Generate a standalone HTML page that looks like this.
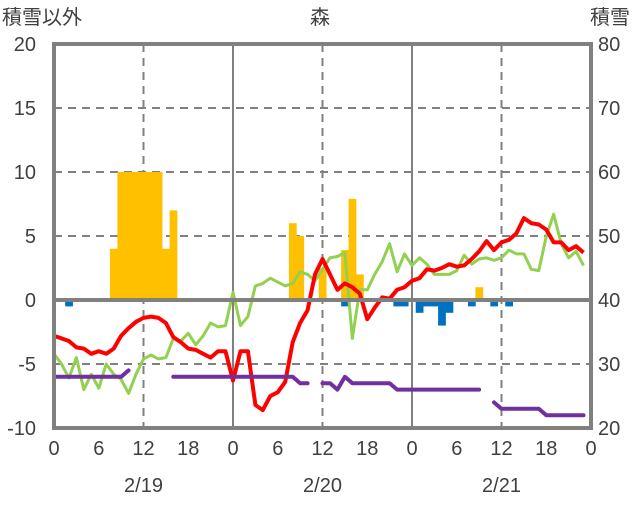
<!DOCTYPE html>
<html><head><meta charset="utf-8"><style>
body{margin:0;background:#fff;}
svg text{font-family:"Liberation Sans","Noto Sans CJK JP",sans-serif;fill:#404040;}
</style></head><body>
<svg id="chart" width="636" height="501" xmlns="http://www.w3.org/2000/svg">
<g id="grid"></g>
<g id="bars"></g>
<g id="lines"></g>
<g id="axes"></g>
<text x="2" y="24" font-size="20">積雪以外</text>
<text x="320" y="24" font-size="20" text-anchor="middle">森</text>
<text x="630" y="24" font-size="20" text-anchor="end">積雪</text>
</svg>
<script>
const leftTicks=[20,15,10,5,0,-5,-10];
const rightTicks=[80,70,60,50,40,30,20];
const hourTicks=[0,6,12,18,0,6,12,18,0,6,12,18,0];
const dateLabels=["2/19","2/20","2/21"];
const redTemp=[-2.8,-3.0,-3.2,-3.7,-3.8,-4.2,-4.0,-4.2,-3.8,-2.8,-2.2,-1.7,-1.4,-1.3,-1.4,-1.8,-2.9,-3.3,-3.8,-3.9,-4.2,-4.5,-4.0,-4.0,-6.3,-4.0,-4.0,-8.2,-8.6,-7.5,-7.2,-6.4,-3.3,-1.8,-0.8,2.0,3.2,2.0,0.8,1.3,1.0,0.5,-1.5,-0.6,0.2,0.1,0.8,1.0,1.5,1.7,2.4,2.3,2.5,2.8,2.6,2.7,3.2,3.8,4.6,3.9,4.5,4.7,5.2,6.4,6.0,5.9,5.5,4.5,4.5,3.9,4.2,3.7];
const greenTemp=[-4.2,-5.0,-6.1,-4.5,-7.0,-5.8,-6.9,-5.0,-5.8,-6.2,-7.3,-5.8,-4.6,-4.3,-4.6,-4.5,-3.0,-3.2,-2.6,-3.5,-2.8,-1.8,-2.1,-2.0,0.6,-2.0,-1.3,1.1,1.3,1.7,1.4,1.1,1.3,2.2,2.0,1.5,2.4,3.3,3.4,3.7,-3.0,0.8,0.8,2.0,3.0,4.4,2.2,3.6,2.7,3.3,2.8,2.0,2.0,2.0,2.3,3.5,2.8,3.2,3.3,3.1,3.3,3.9,3.6,3.6,2.4,2.3,5.0,6.7,4.4,3.3,3.8,2.7];
const snowDepth=[28,28,28,28,28,28,28,28,28,28,29,null,null,null,null,null,28,28,28,28,28,28,28,28,28,28,28,28,28,28,28,28,28,27,27,null,27,27,26,28,27,27,27,27,27,27,26,26,26,26,26,26,26,26,26,26,26,26,null,24,23,23,23,23,23,23,22,22,22,22,22,22];
const barHours=[8,9,10,11,12,13,14,15,16,32,33,36,39,40,41,57];
const barValues=[4,10,10,10,10,10,10,4,7,6,5,2.5,3.9,7.9,2.0,1.0];
const negHours=[2,39,46,47,49,50,51,52,53,56,59,61];
const negValues=[-0.5,-0.5,-0.5,-0.5,-1.0,-0.5,-0.5,-2.0,-1.0,-0.5,-0.5,-0.5];

const X0=54,X1=591,Y0=44,Y1=428;
const xs=h=>X0+h*(X1-X0)/72;
const yL=v=>Y0+(20-v)*(Y1-Y0)/30;
const yR=v=>yL((v-40)/2);
const NS="http://www.w3.org/2000/svg";
function mk(tag,parent,attrs){const e=document.createElementNS(NS,tag);for(const k in attrs)e.setAttribute(k,attrs[k]);document.getElementById(parent).appendChild(e);return e;}

// grid
[15,10,5,-5].forEach(v=>{const l=mk('line','grid',{x1:X0,x2:X1,y1:yL(v),y2:yL(v),stroke:'#808080','stroke-width':2,'stroke-dasharray':'8,6'});

});
[12,36,60].forEach(h=>{const l=mk('line','grid',{x1:xs(h),x2:xs(h),y1:Y0,y2:Y1,stroke:'#808080','stroke-width':2,'stroke-dasharray':'8,6'});

});
[24,48].forEach(h=>{const l=mk('line','grid',{x1:xs(h),x2:xs(h),y1:Y0,y2:Y1,stroke:'#808080','stroke-width':2});

});
const bw=(X1-X0)/72;
barHours.forEach((h,i)=>{const v=barValues[i];const r=mk('rect','bars',{x:xs(h)-bw/2,y:yL(v),width:bw+0.3,height:yL(0)-yL(v),fill:'#ffc000'});

});
negHours.forEach((h,i)=>{const v=negValues[i];const r=mk('rect','bars',{x:xs(h)-bw/2,y:yL(0),width:bw+0.3,height:yL(v)-yL(0),fill:'#0070c0'});

});
function path(arr,fy){let d='',pen=false;arr.forEach((v,i)=>{if(v===null){pen=false;return;}d+=(pen?'L':'M')+xs(i).toFixed(1)+','+fy(v).toFixed(1);pen=true;});return d;}
const pg=mk('path','lines',{d:path(greenTemp,yL),fill:'none',stroke:'#92d050','stroke-width':3,'stroke-linejoin':'round'});


const pr=mk('path','lines',{d:path(redTemp,yL),fill:'none',stroke:'#ff0000','stroke-width':4,'stroke-linejoin':'round'});


const pp=mk('path','lines',{d:path(snowDepth,yR),fill:'none',stroke:'#7030a0','stroke-width':4,'stroke-linejoin':'round','stroke-linecap':'round'});


// axes
const z=mk('line','axes',{x1:X0,x2:X1,y1:yL(0),y2:yL(0),stroke:'#808080','stroke-width':4});


const f=mk('rect','axes',{x:X0,y:Y0,width:X1-X0,height:Y1-Y0,fill:'none',stroke:'#808080','stroke-width':4});


leftTicks.forEach(v=>{const t=mk('text','axes',{x:36,y:yL(v)+7,'font-size':20,'text-anchor':'end'});t.textContent=v;

});
rightTicks.forEach((v,i)=>{const t=mk('text','axes',{x:598,y:yL(leftTicks[i])+7,'font-size':20});t.textContent=v;

});
hourTicks.forEach((v,i)=>{const t=mk('text','axes',{x:xs(i*6),y:455,'font-size':20,'text-anchor':'middle'});t.textContent=v;

});
dateLabels.forEach((v,i)=>{const t=mk('text','axes',{x:xs(12+24*i),y:492,'font-size':20,'text-anchor':'middle'});t.textContent=v;

});
</script>
</body></html>
